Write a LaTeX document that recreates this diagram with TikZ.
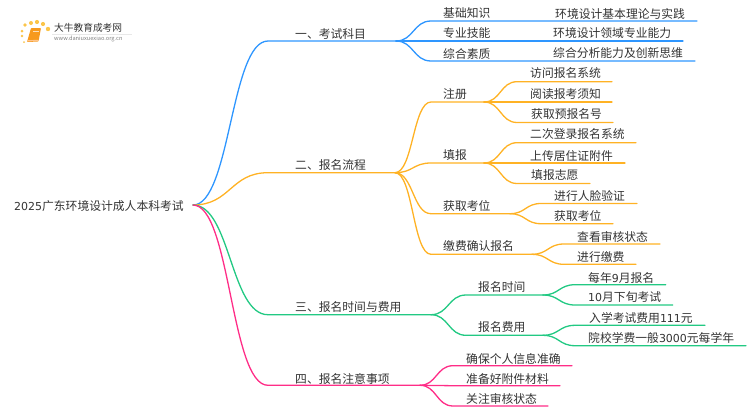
\documentclass[tikz,border=0pt]{standalone}
\usepackage{fontspec}
\setmainfont{Noto Sans CJK SC}
\newfontfamily\dgf[Scale=0.93]{DejaVu Sans}
\usetikzlibrary{calc}
\definecolor{cblue}{HTML}{2E96FF}
\definecolor{corange}{HTML}{FFB224}
\definecolor{cgreen}{HTML}{22C983}
\definecolor{cpink}{HTML}{FF2D87}
\definecolor{ctext}{HTML}{333333}
\definecolor{cbook}{HTML}{F79A1E}
\definecolor{cdot}{HTML}{FBC54A}
\tikzset{
  lbl/.style={anchor=west,inner sep=0pt,yshift=-0.5pt,font=\fontsize{11.8}{12}\selectfont,text=ctext},
  wire/.style={line width=1.3pt,line cap=round,line join=round},
}
% colour, parent, name, x where the curve ends, y, x where the line ends, text x, text y, text
\newcommand\brn[9]{%
  \coordinate (#3-s) at (#4,#5);
  \coordinate (#3) at (#6,#5);
  \node[lbl] (#3-t) at (#7,#8) {#9};
  \draw[wire,#1] let \p1=(#2),\p2=(#3-s) in (#2) .. controls ({0.5*\x1+0.5*\x2},\y1) and ({0.5*\x1+0.5*\x2},\y2) .. (#3-s) -- (#3);
}
\begin{document}
\begin{tikzpicture}[x=1pt,y=-1pt]
\useasboundingbox (0,0) rectangle (750,410);
\node[lbl] (root) at (14,206) {{\dgf 2025}广东环境设计成人本科考试};
\coordinate (rj) at (193,205);

% 一
\brn{cblue}{rj}{a}{268}{41}{396}{295}{33}{一、考试科目}
\brn{cblue}{a}{a1}{431}{21}{697}{443}{13}{基础知识}
\brn{cblue}{a}{a2}{431}{41}{683}{443}{33}{专业技能}
\brn{cblue}{a}{a3}{431}{61}{695}{443}{53}{综合素质}
\node[lbl] (a1x) at (555,13) {环境设计基本理论与实践};
\node[lbl] (a2x) at (553,33) {环境设计领域专业能力};
\node[lbl] (a3x) at (553,53) {综合分析能力及创新思维};

% 二
\brn{corange}{rj}{b}{268}{172.7}{395}{295}{165}{二、报名流程}
\brn{corange}{b}{b1}{431}{102}{484}{443}{94}{注册}
\brn{corange}{b}{b2}{431}{163}{484}{443}{155}{填报}
\brn{corange}{b}{b3}{431}{213.7}{510}{443}{205}{获取考位}
\brn{corange}{b}{b4}{431}{254.3}{532}{443}{246}{缴费确认报名}
\brn{corange}{b1}{b11}{517}{81.7}{612}{530}{73}{访问报名系统}
\brn{corange}{b1}{b12}{517}{102}{612}{530}{94}{阅读报考须知}
\brn{corange}{b1}{b13}{517}{122.5}{613}{531}{114}{获取预报名号}
\brn{corange}{b2}{b21}{517}{142.7}{636}{530}{134}{二次登录报名系统}
\brn{corange}{b2}{b22}{517}{163}{625}{530}{155}{上传居住证附件}
\brn{corange}{b2}{b23}{517}{183.5}{590}{531}{175}{填报志愿}
\brn{corange}{b3}{b31}{541}{203.5}{637}{554}{195}{进行人脸验证}
\brn{corange}{b3}{b32}{541}{223.7}{613}{554}{215}{获取考位}
\brn{corange}{b4}{b41}{564}{244}{660}{577}{236}{查看审核状态}
\brn{corange}{b4}{b42}{564}{264.3}{636}{577}{257}{进行缴费}

% 三
\brn{cgreen}{rj}{c}{268}{314.7}{431}{295}{307}{三、报名时间与费用}
\brn{cgreen}{c}{c1}{466}{295}{543}{478}{287}{报名时间}
\brn{cgreen}{c}{c2}{466}{335.3}{543}{478}{327}{报名费用}
\brn{cgreen}{c1}{c11}{575}{284.7}{665.7}{588}{277}{每年{\dgf 9}月报名}
\brn{cgreen}{c1}{c12}{575}{305}{672.7}{588}{297}{{\dgf 10}月下旬考试}
\brn{cgreen}{c2}{c21}{575}{325.3}{705}{589}{317}{入学考试费用{\dgf 111}元}
\brn{cgreen}{c2}{c22}{575}{345.7}{746}{588}{337}{院校学费一般{\dgf 3000}元每学年}

% 四
\brn{cpink}{rj}{d}{268}{385.3}{420}{295}{378}{四、报名注意事项}
\brn{cpink}{d}{d1}{453}{365.7}{572}{466}{358}{确保个人信息准确}
\brn{cpink}{d}{d2}{453}{385.7}{560}{466}{378}{准备好附件材料}
\brn{cpink}{d}{d3}{453}{406}{548}{466}{398}{关注审核状态}

% logo
\fill[gray!18] (52,33.5) rectangle (132,34);
\node[lbl,font=\fontsize{9.7}{10}\selectfont] (logo) at (54,27) {大牛教育成考网};
\node[lbl,font=\fontsize{5.65}{7}\selectfont,text=gray] (logourl) at (54,38) {www.daniuxuexiao.org.cn};
\fill[cbook,rounded corners=0.8pt] (31,28) -- (41,28) -- (38.5,41.5) -- (27,42) -- cycle;
\fill[orange!45!white] (27.6,40.2) -- (38.8,39.8) -- (38.5,41) -- (27.5,41.4) -- cycle;
\draw[white,line width=.5pt,opacity=.7] (33,31.5) -- (39,31.5);
\foreach \px/\py/\r in {24/42/1,22/36/1.3,22/31/1.5,25/25/1.8,31/23/2,37/22/2.1,43/24/2.1,48/29/2.2}
  \fill[cdot] (\px,\py) circle (\r);
\end{tikzpicture}
\end{document}
